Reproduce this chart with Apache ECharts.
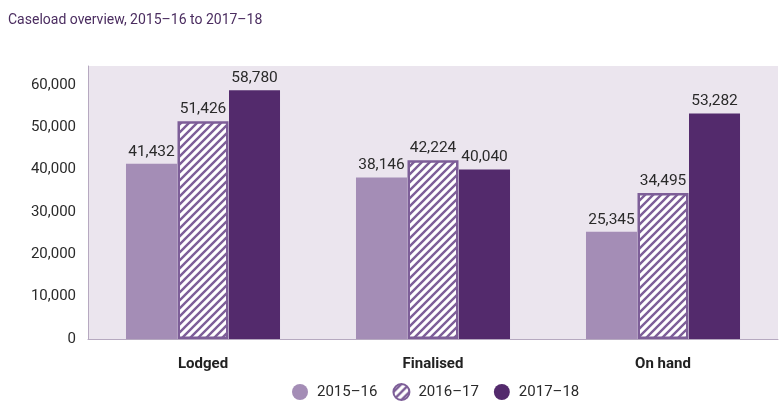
<!DOCTYPE html>
<html>
<head>
<meta charset="utf-8">
<script src="https://cdn.jsdelivr.net/npm/echarts@6/dist/echarts.min.js"></script>
<style>
html,body{margin:0;padding:0;background:#fff;}
#main{width:782px;height:404px;}
</style>
</head>
<body>
<div id="main"></div>
<script>
const categories = ['Lodged', 'Finalised', 'On hand'];
const seriesNames = ['2015\u201316', '2016\u201317', '2017\u201318'];
const values2015_16 = [41432, 38146, 25345];
const values2016_17 = [51426, 42224, 34495];
const values2017_18 = [58780, 40040, 53282];
const yTicks = [0, 10000, 20000, 30000, 40000, 50000, 60000];

function makeHatch() {
  const s = 8;
  const c = document.createElement('canvas');
  c.width = s; c.height = s;
  const ctx = c.getContext('2d');
  ctx.fillStyle = '#ffffff';
  ctx.fillRect(0, 0, s, s);
  ctx.strokeStyle = '#7d5e98';
  ctx.lineWidth = 2.4;
  ctx.beginPath();
  ctx.moveTo(-1, s + 1); ctx.lineTo(s + 1, -1);
  ctx.moveTo(-1, 1); ctx.lineTo(1, -1);
  ctx.moveTo(s - 1, s + 1); ctx.lineTo(s + 1, s - 1);
  ctx.stroke();
  return c;
}

const hatch = { image: makeHatch(), repeat: 'repeat' };
const font = 'Roboto, "Noto Sans", sans-serif';
const fmt = v => v.toLocaleString('en-US');

const labelCfg = {
  show: true, position: 'top', distance: 4,
  color: '#2a2a2a', fontSize: 15.5, fontFamily: font,
  formatter: p => fmt(p.value)
};

const chart = echarts.init(document.getElementById('main'));
chart.setOption({
  animation: false,
  textStyle: { fontFamily: font },
  title: {
    text: 'Caseload overview, 2015\u201316 to 2017\u201318',
    left: 3, top: 8,
    textStyle: { fontSize: 14, fontWeight: 'normal', color: '#4b2d60', fontFamily: font }
  },
  legend: {
    left: 287, top: 378,
    icon: 'circle', itemWidth: 16, itemHeight: 16, itemGap: 15,
    textStyle: { fontSize: 15, color: '#2a2a2a', fontFamily: font, padding: [0, 0, 0, 4] },
    data: seriesNames
  },
  grid: {
    left: 88, right: 4, top: 66, bottom: 65,
    show: true, backgroundColor: '#ebe5ee', borderWidth: 0
  },
  xAxis: {
    type: 'category', data: categories,
    axisLine: { show: true, lineStyle: { color: '#b6a9c0', width: 1 } },
    axisTick: { show: false },
    axisLabel: { margin: 18, fontSize: 15, fontWeight: 'bold', color: '#222', fontFamily: font }
  },
  yAxis: {
    type: 'value', min: 0, max: 64500, interval: 10000,
    axisLine: { show: true, lineStyle: { color: '#b6a9c0', width: 1 } },
    axisTick: { show: false },
    splitLine: { show: false },
    axisLabel: {
      margin: 12, fontSize: 15, color: '#2a2a2a', fontFamily: font,
      formatter: v => yTicks.indexOf(v) >= 0 ? fmt(v) : ''
    }
  },
  series: [
    {
      name: seriesNames[0], type: 'bar', data: values2015_16,
      barWidth: 51, barGap: '1%',
      itemStyle: { color: '#a48db6' },
      label: labelCfg
    },
    {
      name: seriesNames[1], type: 'bar', data: values2016_17,
      barWidth: 51,
      itemStyle: { color: hatch, borderColor: '#7d5e98', borderWidth: 2.5 },
      label: labelCfg
    },
    {
      name: seriesNames[2], type: 'bar', data: values2017_18,
      barWidth: 51,
      itemStyle: { color: '#532a6c' },
      label: labelCfg
    }
  ]
});
</script>
</body>
</html>
